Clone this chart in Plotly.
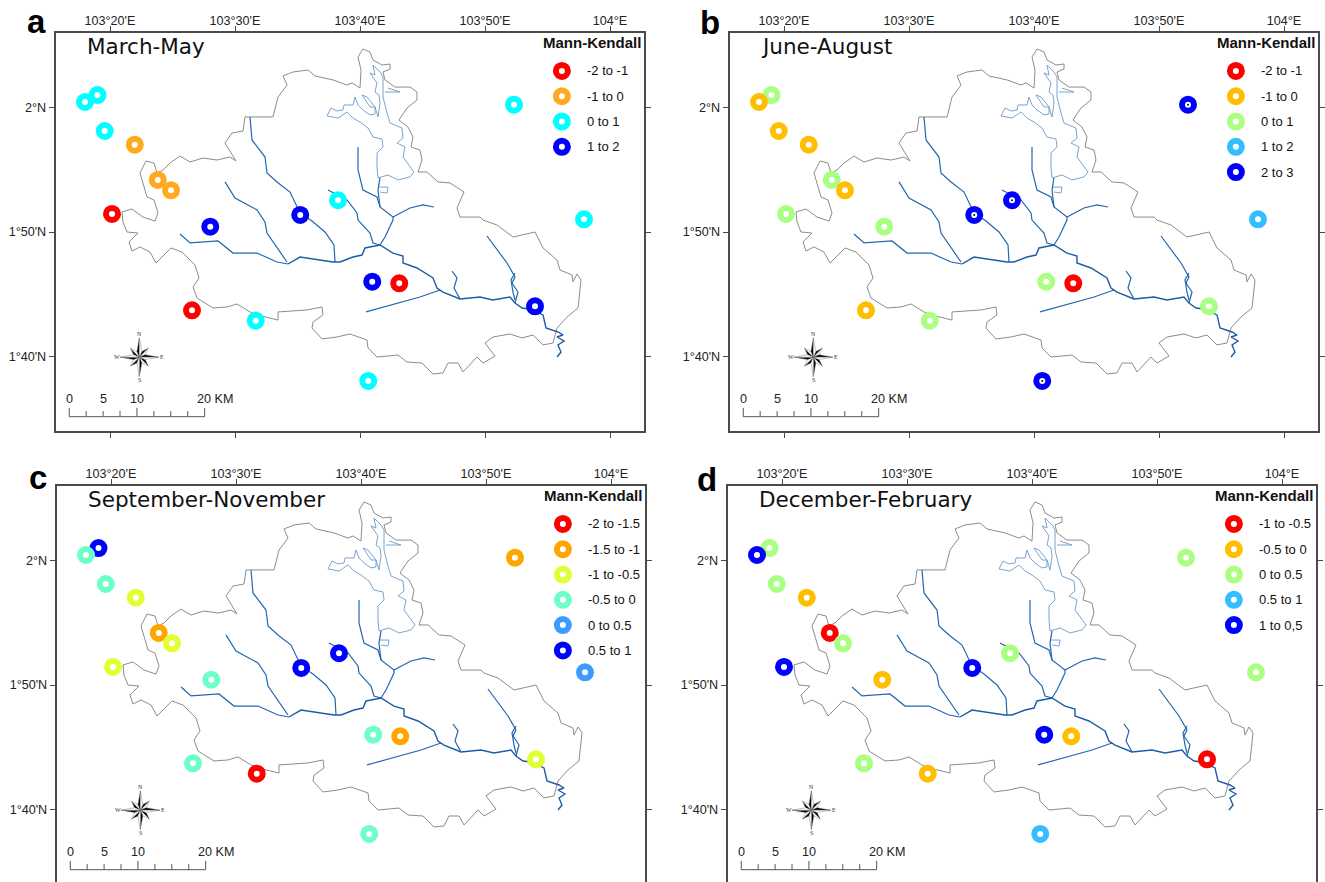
import math
import plotly.graph_objects as go

# ---------- data (longitude: minutes east of 103 deg; latitude: minutes north of 0 deg) ----------
panel_letters = ["a", "b", "c", "d"]
panel_titles = ["March-May", "June-August", "September-November", "December-February"]

lon_ticks = [20, 30, 40, 50, 60]
lon_labels = ["103°20'E", "103°30'E", "103°40'E", "103°50'E", "104°E"]
lat_ticks = [100, 110, 120]
lat_labels = ["1°40'N", "1°50'N", "2°N"]

station_lon = [19.0, 18.0, 19.58, 21.98, 23.82, 24.88, 20.16, 28.02, 35.22, 38.24, 52.32, 57.92, 40.98, 43.14, 54.0, 26.56, 31.66, 40.66]
station_lat = [121.0, 120.44, 118.11, 117.01, 114.18, 113.35, 111.45, 110.43, 111.37, 112.55, 120.22, 111.02, 106.01, 105.88, 104.03, 103.71, 102.88, 98.04]

labels_a = ["-2 to -1", "-1 to 0", "0 to 1", "1 to 2"]
labels_b = ["-2 to -1", "-1 to 0", "0 to 1", "1 to 2", "2 to 3"]
labels_c = ["-2 to -1.5", "-1.5 to -1", "-1 to -0.5", "-0.5 to 0", "0 to 0.5", "0.5 to 1"]
labels_d = ["-1 to -0.5", "-0.5 to 0", "0 to 0.5", "0.5 to 1", "1 to 0,5"]

colors_a = ["#FF0000", "#FFAA1E", "#00FFFF", "#0000FF"]
colors_b = ["#FF0000", "#FFBE00", "#AAFF82", "#32BEFF", "#0000FF"]
colors_c = ["#FF0000", "#FFA500", "#E1FF32", "#6EFFC8", "#3C9BFF", "#0000FF"]
colors_d = ["#FF0000", "#FFBE00", "#AAFF82", "#32BEFF", "#0000FF"]

class_a = [2, 2, 2, 1, 1, 1, 0, 3, 3, 2, 2, 2, 3, 0, 3, 0, 2, 2]
class_b = [2, 1, 1, 1, 2, 1, 2, 2, 4, 4, 4, 3, 2, 0, 2, 1, 2, 4]
class_c = [5, 3, 3, 2, 1, 2, 2, 3, 5, 5, 1, 4, 3, 1, 2, 3, 0, 3]
class_d = [2, 4, 2, 1, 0, 2, 4, 1, 4, 2, 2, 2, 4, 1, 0, 2, 1, 3]

boundary_lon = [20.96, 21.76, 22.64, 23.6, 23.84, 23.52, 22.96, 22.4, 22.88, 23.52, 23.76, 24.24, 24.8, 25.6, 26.4, 27.44, 28.56, 29.6, 30.08, 29.36, 29.2, 29.76, 30.64, 30.8, 33.04, 33.44, 34.16, 33.84, 34.64, 35.84, 36.4, 37.84, 38.96, 39.36, 40.0, 40.08, 39.84, 40.24, 40.8, 41.04, 41.76, 42.4, 42.4, 41.84, 42.0, 42.8, 44.0, 44.56, 44.56, 43.76, 43.12, 43.84, 44.24, 44.08, 44.8, 44.96, 44.64, 45.36, 46.24, 47.2, 48.32, 47.76, 48.0, 49.6, 49.84, 50.96, 52.24, 54.0, 54.64, 55.76, 56.0, 56.96, 57.04, 57.36, 57.68, 57.44, 56.56, 55.76, 55.44, 54.64, 53.84, 52.96, 52.0, 50.64, 50.0, 50.8, 49.84, 49.36, 48.24, 47.84, 47.04, 46.64, 45.84, 44.96, 43.76, 43.04, 41.36, 40.64, 40.56, 39.2, 38.16, 36.96, 36.16, 36.24, 37.04, 36.96, 35.76, 33.44, 33.44, 32.8, 31.76, 31.2, 30.16, 29.36, 28.24, 26.96, 26.64, 27.12, 26.8, 25.76, 24.88, 23.68, 23.2, 22.4, 21.76, 21.52, 22.24, 21.36, 21.04, 20.96]
boundary_lat = [111.61, 111.85, 111.2, 110.88, 111.53, 112.57, 112.81, 114.74, 115.7, 115.54, 114.74, 114.98, 115.54, 116.1, 115.62, 115.94, 115.78, 116.02, 115.7, 116.83, 117.15, 117.95, 118.11, 119.24, 119.24, 120.84, 121.8, 122.53, 122.85, 123.01, 122.53, 122.21, 121.8, 121.97, 121.56, 123.01, 124.05, 124.7, 124.45, 123.81, 123.41, 123.49, 123.09, 122.85, 122.21, 121.64, 121.64, 121.24, 120.6, 119.96, 118.99, 118.43, 117.63, 116.83, 116.58, 115.78, 114.82, 114.82, 114.02, 113.94, 113.21, 111.93, 111.2, 111.2, 110.96, 110.56, 109.6, 110.0, 108.72, 107.75, 106.95, 106.55, 105.99, 106.63, 106.15, 103.9, 103.17, 102.29, 101.09, 100.93, 101.73, 101.49, 101.81, 101.57, 101.09, 100.04, 99.48, 99.96, 98.76, 99.48, 99.48, 98.68, 98.6, 99.48, 99.56, 100.12, 99.96, 100.69, 101.33, 101.81, 101.57, 101.41, 102.29, 102.77, 103.34, 103.98, 103.74, 103.58, 102.93, 103.09, 103.34, 103.58, 104.22, 103.98, 103.9, 104.7, 105.58, 106.31, 107.35, 108.39, 108.72, 107.51, 108.39, 108.8, 108.47, 109.2, 109.92, 110.0, 110.8, 111.61]

river_main_lon = [34.24, 35.2, 37.84, 38.4, 39.44, 40.16, 40.4, 41.6, 42.64, 43.44, 43.44, 44.56, 45.84, 46.16, 46.64, 48.0, 49.6, 50.64, 52.0, 52.4, 52.96, 53.6, 54.64, 54.88, 55.84, 56.24, 55.76, 56.32, 55.84, 56.08, 55.76]
river_main_lat = [107.43, 107.99, 107.59, 107.59, 107.99, 108.15, 108.72, 108.96, 108.31, 108.07, 107.51, 107.11, 106.31, 105.5, 105.18, 104.62, 104.78, 104.54, 104.78, 104.3, 103.9, 103.82, 103.34, 102.29, 101.97, 101.73, 101.57, 101.25, 100.93, 100.36, 99.96]
tributaries_lon = [
    [31.2, 31.36, 32.4, 32.56, 33.36, 34.4, 35.2, 36.16, 37.2, 37.92, 38.0],
    [25.6, 26.4, 28.64, 29.84, 31.76, 33.36, 34.24],
    [29.2, 30.0, 31.76, 32.4, 32.56, 34.16],
    [39.84, 39.84, 40.24, 41.36, 41.6, 42.64, 42.64, 42.0, 41.6],
    [41.6, 41.44, 41.6],
    [45.92, 45.04, 44.0, 42.64],
    [37.44, 38.96, 39.76, 39.84, 40.8, 41.04, 41.6],
    [40.48, 42.4, 44.8, 46.4],
    [47.36, 47.76, 47.52, 48.0],
    [50.16, 50.96, 51.76, 52.4, 52.16, 52.64, 52.4],
    [52.4, 52.08, 52.24, 52.4],
]
tributaries_lat = [
    [119.24, 117.39, 116.02, 114.74, 114.02, 113.21, 111.53, 110.88, 110.0, 108.96, 107.59],
    [109.84, 109.12, 109.28, 108.31, 108.31, 107.59, 107.43],
    [114.02, 112.73, 111.77, 110.8, 109.92, 107.59],
    [116.83, 114.98, 113.37, 112.81, 112.01, 111.2, 110.96, 109.6, 108.96],
    [114.34, 113.37, 112.01],
    [112.01, 112.17, 111.93, 111.2],
    [113.37, 112.57, 111.53, 110.96, 109.92, 109.12, 108.96],
    [103.58, 104.14, 104.78, 105.34],
    [106.87, 106.31, 105.5, 104.62],
    [109.68, 108.56, 107.51, 106.39, 105.9, 105.18, 104.3],
    [106.71, 106.15, 105.18, 104.54],
]
reservoir_lon = [
    [41.44, 41.36, 41.36, 41.84, 41.76, 41.04, 40.64, 40.0, 39.44, 38.96, 38.24, 37.84, 37.36, 37.68, 38.16, 38.64, 38.72, 39.44, 39.6, 39.84, 40.24, 40.8, 41.2, 41.2, 40.8, 40.16, 40.56, 41.2, 41.44, 41.6, 41.52, 41.2, 41.36, 40.8, 41.2, 41.04, 41.6, 41.84, 41.84, 42.16, 42.4, 43.36, 43.44, 42.96, 43.6, 43.44, 44.0, 44.32, 44.0, 43.04, 42.24, 41.44],
    [42.0, 43.2, 42.24],
    [41.44, 42.24, 42.16, 41.6],
]
reservoir_lat = [
    [114.34, 115.22, 116.34, 116.83, 117.47, 117.63, 118.35, 118.83, 119.15, 119.64, 119.15, 119.24, 119.32, 119.96, 119.72, 119.8, 120.2, 120.2, 120.84, 120.2, 119.8, 119.4, 119.48, 120.04, 120.04, 121.0, 120.84, 120.04, 119.24, 120.36, 121.0, 121.24, 121.97, 122.77, 122.61, 123.41, 122.85, 122.45, 120.84, 119.56, 118.75, 118.35, 117.55, 117.15, 116.83, 116.02, 115.22, 114.82, 114.42, 114.18, 114.58, 114.34],
    [121.24, 121.24, 121.56],
    [113.61, 113.61, 113.13, 113.21],
]
scale_km = [0, 2.5, 5, 7.5, 10, 12.5, 15, 17.5, 20]
scale_labels = ["0", "5", "10"]
scale_label_km = [0, 5, 10]

# ---------- page layout ----------
W, H = 1325, 882
LEFT, RIGHT, TOP, BOTTOM = 55.5, 644.0, 33.0, 431.0
X_OFF = [0, 674, 1, 672]
Y_OFF = [0, 0, 453, 453]
LETTER_X = [36, 710, 38, 707]
LETTER_Y = [21, 23, 477, 479]
LAT_PER_PX = 0.0803
LON_RANGE = [15.64, 62.72]
LAT_TOP = 125.98

FRAME = "#4a4a4a"
SANS = "Liberation Sans"


def joined(parts):
    out = []
    for part in parts:
        out.extend(part)
        out.append(None)
    return out


def ring(x, y, colors):
    return go.Scatter(x=x, y=y, mode="markers", hoverinfo="skip", showlegend=False, cliponaxis=False,
                      marker=dict(symbol="circle", size=12, color="white", line=dict(color=colors, width=6)))


all_labels = [labels_a, labels_b, labels_c, labels_d]
all_colors = [colors_a, colors_b, colors_c, colors_d]
all_class = [class_a, class_b, class_c, class_d]

fig = go.Figure()
annotations = []
layout_axes = {}

for i in range(4):
    suf = "" if i == 0 else str(i + 1)
    xref, yref = "x" + suf, "y" + suf
    bottom_px = min(BOTTOM + Y_OFF[i], H)
    lat_low = LAT_TOP - (bottom_px - Y_OFF[i] - TOP) * LAT_PER_PX
    cut = BOTTOM + Y_OFF[i] > H
    layout_axes["xaxis" + suf] = dict(
        domain=[(LEFT + X_OFF[i]) / W, (RIGHT + X_OFF[i]) / W], range=LON_RANGE, anchor=yref, side="top",
        tickmode="array", tickvals=lon_ticks, ticktext=lon_labels, ticks="outside", ticklen=5, tickwidth=1,
        tickcolor=FRAME, showline=True, linecolor=FRAME, linewidth=1.5, mirror=False if cut else "ticks",
        showgrid=False, zeroline=False, ticklabelstandoff=-4, tickfont=dict(family=SANS, size=12.6, color="#222"))
    layout_axes["yaxis" + suf] = dict(
        domain=[1 - bottom_px / H, 1 - (TOP + Y_OFF[i]) / H], range=[lat_low, LAT_TOP], anchor=xref,
        tickmode="array", tickvals=lat_ticks, ticktext=lat_labels, ticks="outside", ticklen=5, tickwidth=1,
        tickcolor=FRAME, showline=True, linecolor=FRAME, linewidth=1.5, mirror="ticks",
        showgrid=False, zeroline=False, tickfont=dict(family=SANS, size=12.6, color="#222"))

    common = dict(xaxis=xref, yaxis=yref, hoverinfo="skip", showlegend=False)

    # basin, reservoir, rivers
    fig.add_trace(go.Scatter(x=boundary_lon, y=boundary_lat, mode="lines", line=dict(color="#7f7f7f", width=0.9), **common))
    fig.add_trace(go.Scatter(x=joined(reservoir_lon), y=joined(reservoir_lat), mode="lines", line=dict(color="#6c9ac8", width=0.9), **common))
    fig.add_trace(go.Scatter(x=joined(tributaries_lon), y=joined(tributaries_lat), mode="lines", line=dict(color="#2266ae", width=1.2), **common))
    fig.add_trace(go.Scatter(x=river_main_lon, y=river_main_lat, mode="lines", line=dict(color="#1c5ca6", width=1.4), **common))

    # stations
    pal = all_colors[i]
    trace = ring(station_lon, station_lat, [pal[c] for c in all_class[i]])
    trace.update(xaxis=xref, yaxis=yref)
    fig.add_trace(trace)
    if i == 1:  # the top class carries a centre dot at the stations
        dots = [k for k, c in enumerate(class_b) if c == 4]
        fig.add_trace(go.Scatter(x=[station_lon[k] for k in dots], y=[station_lat[k] for k in dots], mode="markers",
                                 marker=dict(size=2, color="#111"), **common))

    # legend
    leg_lon = 56.15
    leg_lat0 = 122.93
    leg_step = 2.03
    lats = [leg_lat0 - k * leg_step for k in range(len(pal))]
    trace = ring([leg_lon] * len(pal), lats, pal)
    trace.update(xaxis=xref, yaxis=yref)
    fig.add_trace(trace)
    for label, la in zip(all_labels[i], lats):
        annotations.append(dict(x=58.0, y=la, xref=xref, yref=yref, text=label, showarrow=False, xanchor="left",
                                yanchor="middle", font=dict(family=SANS, size=13, color="#111")))
    annotations.append(dict(x=62.66, y=125.2, xref=xref, yref=yref, text="<b>Mann-Kendall</b>", showarrow=False,
                            xanchor="right", yanchor="middle", font=dict(family=SANS, size=15, color="#111")))

    # panel title and letter
    annotations.append(dict(x=18.0, y=124.86, xref=xref, yref=yref, text=panel_titles[i], showarrow=False,
                            xanchor="left", yanchor="middle", font=dict(family="DejaVu Sans", size=21.5, color="#111")))
    annotations.append(dict(x=LETTER_X[i] / W, y=1 - LETTER_Y[i] / H, xref="paper", yref="paper",
                            text="<b>%s</b>" % panel_letters[i], showarrow=False,
                            xanchor="center", yanchor="middle", font=dict(family=SANS, size=33, color="#000")))

    # scale bar
    km_lon = 0.5416
    sb_lon0, sb_lat0 = 16.74, 95.17
    sb_x = [sb_lon0, sb_lon0 + 20 * km_lon, None]
    sb_y = [sb_lat0, sb_lat0, None]
    for k in scale_km:
        tall = k in (0, 10, 20)
        sb_x += [sb_lon0 + k * km_lon, sb_lon0 + k * km_lon, None]
        sb_y += [sb_lat0, sb_lat0 + (0.70 if tall else 0.45), None]
    fig.add_trace(go.Scatter(x=sb_x, y=sb_y, mode="lines", line=dict(color="#555", width=1), **common))
    for k, s in zip(scale_label_km, scale_labels):
        annotations.append(dict(x=sb_lon0 + k * km_lon, y=96.6, xref=xref, yref=yref, text=s, showarrow=False,
                                xanchor="center", yanchor="middle", font=dict(family=SANS, size=12.6, color="#222")))
    annotations.append(dict(x=26.8, y=96.6, xref=xref, yref=yref, text="20 KM", showarrow=False,
                            xanchor="left", yanchor="middle", font=dict(family=SANS, size=12.6, color="#222")))

    # compass rose
    c_lon, c_lat = 22.35, 99.95
    for step in [1, 3, 5, 7, 0, 2, 4, 6]:
        ang = math.radians(step * 45)
        r_tip = 1.55 if step % 2 == 0 else 1.0
        r_w = 0.5
        tip = (c_lon + r_tip * math.sin(ang), c_lat + r_tip * math.cos(ang))
        a1, a2 = ang - math.radians(22.5), ang + math.radians(22.5)
        side1 = (c_lon + r_w * math.sin(a1), c_lat + r_w * math.cos(a1))
        side2 = (c_lon + r_w * math.sin(a2), c_lat + r_w * math.cos(a2))
        for side, fill in ((side1, "#000000"), (side2, "#ffffff")):
            fig.add_trace(go.Scatter(x=[c_lon, side[0], tip[0], c_lon], y=[c_lat, side[1], tip[1], c_lat],
                                     mode="lines", fill="toself", fillcolor=fill,
                                     line=dict(color="#666", width=0.4), **common))
    for s, dx, dy in (("N", 0, 1.85), ("S", 0, -1.85), ("E", 1.78, 0), ("W", -1.78, 0)):
        annotations.append(dict(x=c_lon + dx, y=c_lat + dy, xref=xref, yref=yref, text=s, showarrow=False,
                                xanchor="center", yanchor="middle", font=dict(family="Liberation Serif", size=6, color="#333")))

fig.update_layout(width=W, height=H, margin=dict(l=0, r=0, t=0, b=0), paper_bgcolor="white", plot_bgcolor="white",
                  showlegend=False, annotations=annotations, **layout_axes)

fig.write_html("out.html", config={"displayModeBar": False},
               post_script="document.body.style.margin='0';document.body.style.overflow='hidden';")
